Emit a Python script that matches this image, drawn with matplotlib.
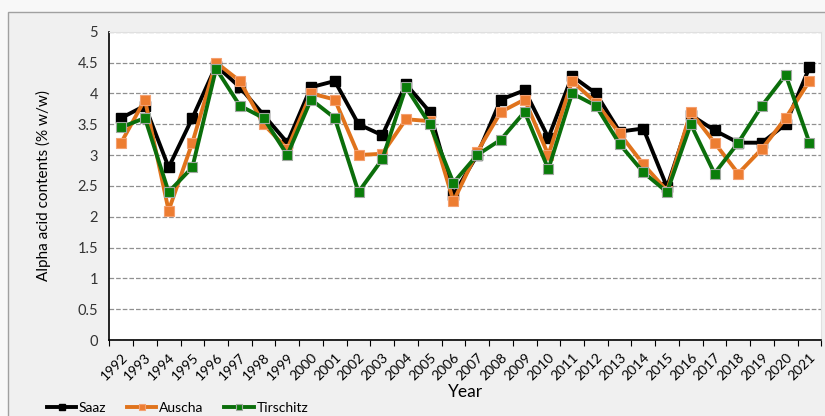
import numpy as np
import matplotlib.pyplot as plt
from matplotlib.patches import Rectangle

plt.rcParams['font.family'] = ['Lato', 'DejaVu Sans']

years = list(range(1992, 2022))
saaz = [3.6, 3.8, 2.8, 3.6, 4.45, 4.1, 3.65, 3.2, 4.1, 4.2,
        3.5, 3.32, 4.15, 3.7, 2.35, 3.0, 3.9, 4.05, 3.28, 4.28,
        4.0, 3.38, 3.43, 2.48, 3.65, 3.4, 3.2, 3.2, 3.5, 4.42]
auscha = [3.2, 3.9, 2.1, 3.2, 4.5, 4.2, 3.5, 3.1, 4.0, 3.9,
          3.0, 3.02, 3.58, 3.55, 2.25, 3.05, 3.7, 3.9, 3.0, 4.2,
          3.85, 3.35, 2.85, 2.42, 3.7, 3.2, 2.7, 3.1, 3.6, 4.2]
tirschitz = [3.45, 3.6, 2.4, 2.8, 4.4, 3.8, 3.6, 3.0, 3.9, 3.6,
             2.4, 2.93, 4.1, 3.5, 2.55, 3.0, 3.25, 3.7, 2.77, 4.0,
             3.8, 3.18, 2.72, 2.4, 3.5, 2.7, 3.2, 3.8, 4.3, 3.2]

fig = plt.figure(figsize=(8.25, 4.16), dpi=100, facecolor='#f8f8f8')
# chart-area frame behind everything
frame = Rectangle((7.5 / 825, -0.1), 1.0, (416 - 11.5) / 416 + 0.1,
                  transform=fig.transFigure, facecolor='#f0f0f0',
                  edgecolor='#a0a0a0', lw=1, zorder=-10)
fig.add_artist(frame)

ax = fig.add_axes([109.3 / 825, 76 / 416, 712 / 825, 308.3 / 416])
ax.set_facecolor('white')

x = np.arange(len(years))
ax.plot(x, saaz, color='black', lw=2.8, marker='s', ms=7.5,
        mfc='black', mec='black', label='Saaz', zorder=3)
ax.plot(x, auscha, color='#e0731c', lw=2.8, marker='s', ms=7.5,
        mfc='#ed7d31', mec='#f4a070', mew=0.8, label='Auscha', zorder=4)
ax.plot(x, tirschitz, color='#0b6e0b', lw=2.8, marker='s', ms=7.5,
        mfc='#0a7d0a', mec='#a0a8a0', mew=0.8, label='Tirschitz', zorder=5)

ax.set_xlim(-0.5, len(years) - 0.5)
ax.set_ylim(0, 5)
ax.set_yticks(np.arange(0, 5.01, 0.5))
ax.set_yticklabels(['0', '0.5', '1', '1.5', '2', '2.5', '3', '3.5', '4', '4.5', '5'])
ax.yaxis.grid(True, ls='--', color='#909090', lw=0.9)
ax.set_axisbelow(True)

ax.set_xticks(np.arange(-0.5, len(years), 1.0))
ax.set_xticklabels([])
ax.set_xticks(x, minor=True)
ax.set_xticklabels([str(y) for y in years], minor=True, rotation=45,
                   ha='right', va='top', rotation_mode='anchor', fontsize=10)
ax.tick_params(axis='x', which='major', direction='out', length=4, color='black')
ax.tick_params(axis='x', which='minor', length=0, pad=8)
ax.tick_params(axis='y', length=0, labelsize=10.5, pad=8, labelcolor='#333333')

for s in ['top', 'right']:
    ax.spines[s].set_color('#e0e0e0')
ax.spines['left'].set_color('black')
ax.spines['bottom'].set_color('black')
ax.spines['left'].set_linewidth(1.2)
ax.spines['bottom'].set_linewidth(1.2)

ax.set_ylabel('Alpha acid contents (% w/w)', fontsize=11, labelpad=19)
ax.set_xlabel('Year', fontsize=12.5, labelpad=1)

fig.legend(loc='center left', bbox_to_anchor=(40 / 825, 1 - 408 / 416), ncol=3,
           frameon=False, fontsize=10, handlelength=2.1, handletextpad=0.2,
           columnspacing=1.5, markerscale=0.6, borderpad=0)

fig.savefig('out.png', dpi=100, facecolor=fig.get_facecolor())
